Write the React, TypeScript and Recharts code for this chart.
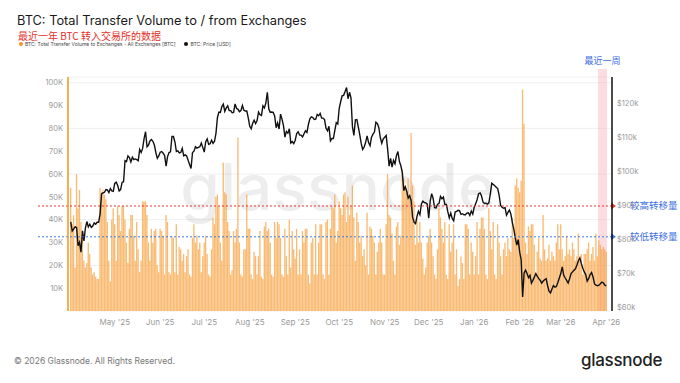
import {
  ComposedChart,
  Bar,
  Line,
  XAxis,
  YAxis,
  CartesianGrid,
  ReferenceLine,
  ReferenceArea,
} from 'recharts'

// Daily BTC sent to exchanges, thousands of BTC
const volApr25 = [54, 38, 42, 19, 60, 45, 53, 39, 33, 22, 19, 21, 30, 25, 19, 16, 17, 15, 14, 14, 54, 52, 53, 51, 49, 39, 22, 13, 40, 45]
const volMay25 = [38, 22, 46, 42, 35, 46, 46, 40, 30, 21, 36, 42, 42, 33, 22, 39, 27, 17, 22, 48, 48, 48, 42, 30, 22, 36, 30, 35, 36, 20, 17]
const volJun25 = [36, 35, 33, 16, 42, 39, 17, 16, 33, 32, 17, 38, 16, 28, 27, 22, 25, 17, 24, 27, 16, 15, 32, 38, 30, 33, 27, 30, 17, 24]
const volJul25 = [30, 33, 25, 16, 15, 27, 41, 38, 50, 51, 46, 30, 22, 65, 52, 51, 39, 35, 16, 18, 35, 30, 36, 76, 30, 16, 15, 27, 27, 51, 36]
const volAug25 = [36, 16, 14, 26, 24, 16, 24, 35, 15, 14, 37, 39, 35, 36, 30, 16, 15, 39, 32, 39, 38, 32, 16, 15, 36, 24, 16, 40, 19, 35, 27]
const volSep25 = [23, 36, 16, 27, 16, 35, 30, 36, 36, 16, 12, 30, 32, 16, 38, 16, 30, 38, 38, 16, 14, 39, 40, 16, 36, 46, 45, 51, 30, 35]
const volOct25 = [48, 45, 42, 51, 52, 39, 50, 42, 46, 55, 41, 22, 43, 39, 30, 33, 24, 27, 20, 43, 16, 37, 36, 33, 30, 16, 26, 30, 36, 30, 16]
const volNov25 = [16, 38, 60, 42, 41, 34, 22, 16, 37, 39, 29, 33, 62, 58, 55, 52, 58, 50, 78, 55, 48, 29, 41, 30, 39, 30, 23, 16, 19, 30]
const volDec25 = [33, 36, 30, 24, 16, 14, 27, 45, 41, 36, 30, 39, 16, 14, 38, 26, 30, 38, 16, 27, 11, 14, 24, 21, 14, 38, 38, 36, 16, 30, 26]
const volJan26 = [16, 24, 39, 16, 36, 41, 41, 36, 16, 14, 45, 35, 27, 39, 16, 14, 38, 30, 24, 16, 27, 30, 24, 32, 27, 26, 41, 32, 55, 58, 54]
const volFeb26 = [52, 57, 97, 82, 30, 25, 37, 35, 38, 38, 29, 16, 26, 32, 23, 22, 42, 27, 22, 23, 29, 22, 26, 24, 22, 30, 38, 27]
const volMar26 = [38, 27, 22, 24, 33, 25, 27, 24, 30, 27, 22, 24, 34, 22, 25, 16, 25, 25, 27, 30, 22, 25, 28, 22, 34, 24, 31, 29, 27, 28, 27]
const volApr26 = [26]

// BTC price, thousands of USD
const priceApr25 = [85.2, 82.5, 83.1, 83.8, 83.5, 78.2, 79.2, 76.3, 82.6, 79.6, 83.4, 85.3, 83.7, 84.5, 83.6, 84.0, 84.9, 84.5, 85.1, 85.1, 87.5, 93.4, 93.7, 93.9, 94.7, 94.6, 93.8, 95.0, 94.3, 94.2]
const priceMay25 = [96.5, 96.9, 95.9, 94.3, 94.7, 96.8, 97.0, 103.2, 102.9, 104.6, 104.1, 102.8, 104.2, 103.5, 103.7, 103.5, 103.2, 106.5, 105.6, 106.8, 109.7, 111.7, 107.3, 107.8, 109.0, 109.4, 108.9, 107.8, 105.6, 103.9, 104.6]
const priceJun25 = [105.7, 105.9, 105.4, 104.7, 101.6, 104.4, 105.6, 105.8, 110.3, 110.3, 108.7, 105.9, 106.1, 105.5, 105.6, 106.8, 104.6, 104.9, 104.6, 103.3, 102.1, 100.9, 105.6, 106.0, 107.3, 106.9, 107.1, 107.3, 108.4, 107.1]
const priceJul25 = [105.7, 108.8, 109.6, 108.0, 108.2, 109.2, 108.3, 108.9, 111.3, 115.9, 117.5, 117.4, 119.1, 119.8, 117.7, 118.7, 119.3, 117.9, 117.9, 117.3, 117.4, 119.9, 118.6, 118.3, 117.6, 117.9, 119.4, 118.0, 117.8, 117.8, 115.8]
const priceAug25 = [113.3, 112.6, 114.2, 115.1, 114.1, 115.0, 117.5, 116.7, 116.5, 119.3, 118.7, 120.2, 123.3, 118.4, 117.4, 117.5, 117.4, 116.3, 112.9, 114.3, 112.5, 116.9, 115.4, 113.5, 110.1, 111.8, 111.3, 112.6, 108.4, 108.8, 108.2]
const priceSep25 = [109.2, 111.2, 111.7, 110.7, 110.7, 110.2, 111.1, 112.0, 111.5, 113.9, 115.5, 116.1, 115.9, 115.3, 115.4, 116.8, 116.4, 117.1, 115.7, 115.7, 115.3, 112.7, 112.0, 113.3, 109.0, 109.7, 109.7, 112.1, 114.4, 114.0]
const priceOct25 = [118.6, 120.6, 122.3, 122.4, 123.5, 124.7, 121.4, 123.3, 121.7, 113.2, 110.6, 115.2, 115.3, 113.1, 110.8, 108.2, 106.5, 107.2, 108.6, 110.5, 108.5, 107.6, 110.1, 111.0, 111.6, 114.5, 114.1, 112.9, 110.0, 108.3, 109.6]
const priceNov25 = [110.1, 110.6, 106.5, 101.6, 103.9, 101.3, 103.3, 102.3, 104.7, 105.9, 103.0, 101.7, 99.7, 94.4, 95.5, 94.2, 92.2, 92.9, 91.5, 86.6, 85.1, 84.7, 86.8, 88.3, 87.3, 90.5, 91.3, 90.9, 90.8, 90.4]
const priceDec25 = [86.3, 91.3, 93.5, 92.1, 89.4, 89.3, 90.4, 90.6, 92.7, 92.0, 92.5, 90.3, 90.3, 88.2, 86.4, 87.8, 86.2, 85.5, 88.1, 88.3, 88.6, 88.5, 87.4, 87.6, 87.3, 87.3, 87.8, 87.9, 87.1, 88.4, 87.5]
const priceJan26 = [89.5, 90.5, 91.8, 93.5, 93.7, 92.8, 91.0, 90.6, 90.7, 90.4, 90.8, 93.5, 96.6, 96.2, 95.8, 95.4, 95.0, 93.0, 90.0, 89.5, 89.2, 89.4, 87.2, 88.0, 88.7, 87.5, 85.0, 83.0, 80.5, 78.4, 80.0]
const priceFeb26 = [76.3, 74.0, 63.1, 70.2, 71.0, 70.0, 68.8, 69.5, 67.2, 68.0, 69.0, 70.0, 69.2, 68.5, 68.0, 67.2, 67.8, 68.2, 68.5, 66.5, 64.8, 64.3, 65.5, 66.5, 66.0, 66.2, 67.4, 68.7]
const priceMar26 = [70.0, 72.0, 69.5, 68.7, 68.0, 67.2, 68.5, 70.0, 70.5, 71.0, 71.4, 72.5, 73.8, 74.6, 73.0, 71.6, 70.5, 69.7, 67.8, 68.5, 69.7, 70.3, 69.0, 67.0, 66.6, 66.4, 66.6, 67.0, 67.5, 67.3, 66.6]
const priceApr26 = [66.4]

const monthKeys = ['2025-04', '2025-05', '2025-06', '2025-07', '2025-08', '2025-09', '2025-10', '2025-11', '2025-12', '2026-01', '2026-02', '2026-03', '2026-04']
const volByMonth = [volApr25, volMay25, volJun25, volJul25, volAug25, volSep25, volOct25, volNov25, volDec25, volJan26, volFeb26, volMar26, volApr26]
const priceByMonth = [priceApr25, priceMay25, priceJun25, priceJul25, priceAug25, priceSep25, priceOct25, priceNov25, priceDec25, priceJan26, priceFeb26, priceMar26, priceApr26]

const tickDates = ['2025-05-01', '2025-06-01', '2025-07-01', '2025-08-01', '2025-09-01', '2025-10-01', '2025-11-01', '2025-12-01', '2026-01-01', '2026-02-01', '2026-03-01', '2026-04-01']
const tickLabels = ["May '25", "Jun '25", "Jul '25", "Aug '25", "Sep '25", "Oct '25", "Nov '25", "Dec '25", "Jan '26", "Feb '26", "Mar '26", "Apr '26"]

const volTicks = [10000, 20000, 30000, 40000, 50000, 60000, 70000, 80000, 90000, 100000]
const priceTicks = [60000, 70000, 80000, 90000, 100000, 110000, 120000]

const highLevel = 46000
const lowLevel = 32500
const lastWeekStart = '2026-03-27'
const lastWeekEnd = '2026-04-01'

const data = monthKeys.flatMap((mk, mi) =>
  volByMonth[mi].map((v, i) => ({
    date: `${mk}-${String(i + 1).padStart(2, '0')}`,
    vol: v * 1000,
    price: priceByMonth[mi][i] * 1000,
  }))
)

const FONT = "Inter, 'Noto Sans CJK SC', sans-serif"
const CJK = "'Noto Sans CJK SC', sans-serif"
const BLUE = '#3b6fe2'

function LevelLine(color: string, text: string) {
  return (props: any) => {
    const { x1, y1, x2 } = props
    return (
      <g>
        <line x1={x1 - 30} y1={y1} x2={x2} y2={y1} stroke={color} strokeWidth={1} strokeDasharray="2 2" />
        <path d={`M${x2 - 1},${y1 - 3.5} L${x2 + 4},${y1} L${x2 - 1},${y1 + 3.5} Z`} fill={color} />
        <text x={x2 + 18} y={y1 + 3.5} fill={BLUE} fontSize={9.5} fontFamily={CJK}>
          {text}
        </text>
      </g>
    )
  }
}

export default function App() {
  return (
    <div style={{ position: 'fixed', left: 0, top: 0, width: 680, height: 383, background: '#fff', fontFamily: FONT, overflow: 'hidden' }}>
      <div style={{ position: 'absolute', left: 17, top: 13, fontSize: 12.8, color: '#1a1a1a', whiteSpace: 'nowrap' }}>
        BTC: Total Transfer Volume to / from Exchanges
      </div>
      <div style={{ position: 'absolute', left: 18, top: 28.5, fontSize: 10, color: '#e5302a', fontFamily: CJK, whiteSpace: 'nowrap', lineHeight: '13px' }}>
        最近一年 BTC 转入交易所的数据
      </div>
      <div style={{ position: 'absolute', left: 19, top: 41, fontSize: 5, color: '#444', display: 'flex', alignItems: 'center', whiteSpace: 'nowrap' }}>
        <span style={{ width: 4, height: 4, borderRadius: 2, background: '#f7931a', marginRight: 2 }} />
        <span>BTC: Total Transfer Volume to Exchanges - All Exchanges [BTC]</span>
        <span style={{ width: 4, height: 4, borderRadius: 2, background: '#111', marginLeft: 9, marginRight: 2 }} />
        <span>BTC: Price [USD]</span>
      </div>

      <ComposedChart
        width={680}
        height={383}
        data={data}
        margin={{ top: 77, right: 0, bottom: 52, left: 0 }}
        barCategoryGap={0}
        style={{ position: 'absolute', left: 0, top: 0 }}
      >
        <text x={338} y={210} textAnchor="middle" fontSize={64} fontWeight={500} fill="#000" fillOpacity={0.07} fontFamily={FONT}>
          glassnode
        </text>
        <CartesianGrid yAxisId="vol" vertical={false} stroke="#efefef" />
        <XAxis
          dataKey="date"
          ticks={tickDates}
          interval={0}
          tickFormatter={(d: string) => tickLabels[tickDates.indexOf(d)]}
          tickLine={false}
          axisLine={false}
          height={20}
          padding={{ left: 2, right: 5 }}
          tick={{ fontSize: 8, fill: '#9a9a9a', fontFamily: FONT }}
        />
        <YAxis
          yAxisId="vol"
          orientation="left"
          width={68}
          domain={[0, 102500]}
          ticks={volTicks}
          tickFormatter={(v: number) => `${v / 1000}K`}
          tickLine={false}
          tickSize={5}
          tickMargin={0}
          axisLine={{ stroke: '#f7931a', strokeWidth: 1.5 }}
          tick={{ fontSize: 7.5, fill: '#9a9a9a', fontFamily: FONT }}
        />
        <YAxis
          yAxisId="price"
          orientation="right"
          width={68}
          domain={[59000, 127800]}
          ticks={priceTicks}
          tickFormatter={(v: number) => `$${v / 1000}k`}
          tickLine={false}
          tickSize={5}
          tickMargin={0}
          axisLine={{ stroke: '#111', strokeWidth: 1.5 }}
          tick={{ fontSize: 7.5, fill: '#9a9a9a', fontFamily: FONT }}
        />
        <Bar yAxisId="vol" dataKey="vol" fill="#f7a03c" fillOpacity={0.72} barSize={1.5} isAnimationActive={false} />
        <ReferenceArea
          yAxisId="vol"
          x1={lastWeekStart}
          x2={lastWeekEnd}
          y1={0}
          y2={106000}
          ifOverflow="visible"
          fill="#f7a8b4"
          fillOpacity={0.4}
          stroke="none"
          label={{ value: '最近一周', position: 'top', offset: 5, fill: BLUE, fontSize: 9, fontFamily: CJK }}
        />
        <Line
          yAxisId="price"
          dataKey="price"
          type="linear"
          stroke="#111"
          strokeWidth={1.4}
          dot={false}
          isAnimationActive={false}
        />
        <ReferenceLine yAxisId="vol" y={highLevel} shape={LevelLine('#e53935', '较高转移量')} />
        <ReferenceLine yAxisId="vol" y={lowLevel} shape={LevelLine('#3d7fe0', '较低转移量')} />
      </ComposedChart>

      <div style={{ position: 'absolute', left: 14, top: 356, fontSize: 8.5, color: '#777', whiteSpace: 'nowrap' }}>
        © 2026 Glassnode. All Rights Reserved.
      </div>
      <div style={{ position: 'absolute', left: 581, top: 350, fontSize: 17, color: '#222', fontWeight: 500, letterSpacing: -0.3, whiteSpace: 'nowrap' }}>
        glassnode
      </div>
    </div>
  )
}
